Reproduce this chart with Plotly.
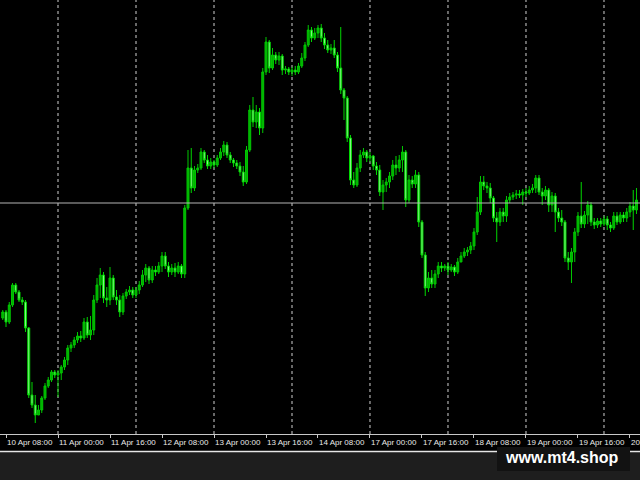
import pandas as pd
import plotly.graph_objects as go

# Hourly OHLC values (price units)
open_ = [116,122,112,129,149,142,134,132,106,39,
         29,19,24,36,48,54,62,59,61,67,
         74,86,89,94,98,96,112,99,104,134,
         149,159,136,134,156,137,134,122,138,142,
         144,139,144,149,159,166,154,164,162,168,
         178,168,162,166,162,168,160,226,266,246,
         264,266,282,274,268,272,269,276,282,289,
         279,274,271,268,262,252,284,324,312,322,
         306,362,392,366,379,374,378,364,365,362,
         364,362,368,376,389,404,396,401,406,396,
         389,384,386,379,366,344,336,296,254,249,
         266,279,282,276,278,268,264,242,249,252,
         258,269,266,274,282,234,254,250,259,212,
         179,146,156,150,160,168,166,168,164,167,
         162,172,178,182,184,188,202,222,252,248,
         246,236,216,212,222,218,234,237,239,240,
         239,242,241,244,246,256,242,238,244,229,
         238,222,216,212,176,172,182,202,218,210,
         219,229,212,209,213,210,215,209,206,218,
         212,219,216,222,228,224]
close = [122,112,129,149,142,134,132,106,39,29,
         19,24,36,48,54,62,59,61,67,74,
         86,89,94,98,96,112,99,104,134,149,
         159,136,134,156,137,134,122,138,142,144,
         139,144,149,159,166,154,164,162,168,178,
         168,162,166,162,168,160,226,266,246,264,
         266,282,274,268,272,269,276,282,289,279,
         274,271,268,262,252,284,324,312,322,306,
         362,392,366,379,374,378,364,365,362,364,
         362,368,376,389,404,396,401,406,396,389,
         384,386,379,366,344,336,296,254,249,266,
         279,282,276,278,268,264,242,249,252,258,
         269,266,274,282,234,254,250,259,212,179,
         146,156,150,160,168,166,168,164,167,162,
         172,178,182,184,188,202,222,252,248,246,
         236,216,212,222,218,234,237,239,240,239,
         242,241,244,246,256,242,238,244,229,238,
         222,216,212,176,172,182,202,218,210,219,
         229,212,209,213,210,215,209,206,218,212,
         219,216,222,228,224,234]
high = [124,124,132,151,151,144,137,134,107,52,
        39,29,38,51,57,64,64,64,69,77,
        89,92,97,102,103,116,117,118,139,156,
        166,162,147,167,159,144,139,141,145,148,
        147,147,153,164,170,168,168,168,172,182,
        182,172,170,171,172,170,229,284,286,268,
        270,286,284,279,276,274,279,286,293,292,
        282,276,274,272,268,288,329,337,329,326,
        366,397,394,386,382,382,380,368,367,367,
        368,371,381,392,409,407,406,409,410,401,
        394,390,394,382,407,346,338,299,262,271,
        284,286,284,282,279,272,269,254,256,262,
        274,278,279,288,284,259,258,264,262,214,
        182,162,164,164,172,172,170,172,170,169,
        176,182,186,187,192,206,237,258,258,252,
        251,238,222,226,226,238,241,242,244,244,
        245,246,248,250,259,259,246,248,246,242,
        241,226,224,214,182,186,206,222,252,223,
        233,232,216,216,216,218,218,212,222,222,
        222,222,226,232,244,246]
low = [114,107,110,127,140,132,129,102,36,26,
       11,19,21,34,46,52,56,37,54,64,
       69,82,86,91,92,94,96,94,99,131,
       136,131,127,129,134,129,117,119,135,139,
       136,136,140,147,152,150,151,158,160,162,
       165,157,159,157,160,156,156,224,241,243,
       261,264,271,265,265,266,267,274,278,276,
       271,267,265,258,248,250,282,307,306,299,
       301,359,361,364,370,369,359,360,359,358,
       359,360,366,373,387,392,394,396,392,385,
       381,380,376,362,340,314,292,249,246,247,
       262,276,272,272,264,259,238,224,242,246,
       254,259,262,262,227,231,246,246,207,176,
       138,142,146,146,156,162,163,159,162,158,
       160,172,176,178,180,184,199,219,244,241,
       231,212,192,208,212,212,231,234,235,236,
       229,237,239,241,241,239,229,234,222,222,
       202,212,208,172,164,151,172,198,206,206,
       210,208,205,206,207,208,204,202,204,209,
       210,212,212,217,204,220]
bid_line = 231

# Hourly bar times (weekend skipped, as in MT4)
times = pd.date_range("2017-04-10 07:00", "2017-04-20 10:00", freq="h")
times = times[times.dayofweek < 5]
cats = times.strftime("%Y-%m-%d %H:%M").tolist()

label_idx = list(range(1, len(cats), 16))
tickvals = [cats[i] for i in label_idx]
ticktext = [times[i].strftime("%d %b %H:%M") for i in label_idx]
grid_idx = [i for i, t in enumerate(times) if t.hour == 0]

fig = go.Figure(go.Candlestick(
    x=cats, open=open_, high=high, low=low, close=close,
    increasing=dict(line=dict(color="#00c800", width=1), fillcolor="#00b000"),
    decreasing=dict(line=dict(color="#00d800", width=1), fillcolor="#8cf58c"),
    whiskerwidth=0, showlegend=False, hoverinfo="skip",
))

H = 480
PB = 46
plot_h = H - PB


def py(pix):
    return (plot_h - pix) / plot_h


shapes = []
for i in grid_idx:
    shapes.append(dict(type="line", xref="x", yref="paper", x0=i, x1=i, y0=0, y1=1,
                       line=dict(color="#d0d0d0", width=1, dash="dot"), layer="below"))
shapes.append(dict(type="line", xref="paper", yref="y", x0=0, x1=1, y0=bid_line, y1=bid_line,
                   line=dict(color="#b4b4b4", width=1), layer="above"))
shapes.append(dict(type="rect", xref="paper", yref="paper", x0=0, x1=1, y0=py(480), y1=py(451),
                   fillcolor="#1e1e1e", line=dict(width=0), layer="above"))
shapes.append(dict(type="line", xref="paper", yref="paper", x0=0, x1=1, y0=py(451.5), y1=py(451.5),
                   line=dict(color="#e6e6e6", width=1.5), layer="above"))
shapes.append(dict(type="rect", xref="paper", yref="paper", x0=497/640, x1=630/640,
                   y0=py(471), y1=py(447), fillcolor="#121212", line=dict(width=0), layer="above"))

fig.update_layout(
    width=640, height=H,
    margin=dict(l=0, r=0, t=0, b=PB, autoexpand=False),
    paper_bgcolor="#000000", plot_bgcolor="#000000",
    boxgap=0.15,
    shapes=shapes,
    xaxis=dict(
        type="category", range=[-0.846, 196.08], rangeslider=dict(visible=False),
        tickmode="array", tickvals=tickvals, ticktext=ticktext, tickangle=0,
        ticks="outside", ticklen=3, tickcolor="#c8c8c8",
        ticklabelposition="outside right", automargin=False,
        tickfont=dict(family="Liberation Sans", size=8, color="#e8e8e8"),
        showgrid=False, showline=True, linecolor="#c8c8c8", linewidth=1, zeroline=False,
    ),
    yaxis=dict(range=[0, plot_h], visible=False, showgrid=False, zeroline=False, automargin=False),
    annotations=[dict(text="<b>www.mt4.shop</b>", xref="paper", yref="paper",
                      x=561.5/640, y=py(457.5), xanchor="center", yanchor="middle",
                      showarrow=False, font=dict(family="Liberation Sans", size=16, color="#ffffff"))],
)

fig.write_html("out.html", config={"displayModeBar": False},
               post_script="document.body.style.margin='0';document.body.style.background='#000';")
